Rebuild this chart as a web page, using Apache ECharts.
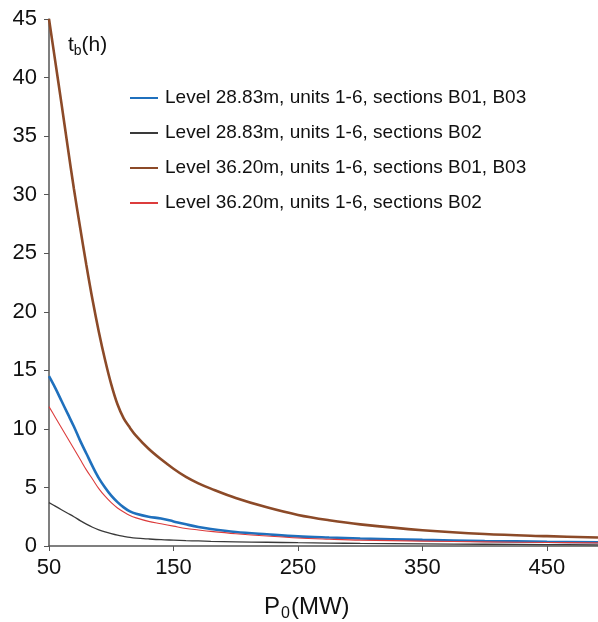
<!DOCTYPE html>
<html>
<head>
<meta charset="utf-8">
<script src="https://cdn.jsdelivr.net/npm/echarts@6/dist/echarts.min.js"></script>
<style>
  html, body { margin: 0; padding: 0; background: #fff; }
  #chart { width: 598px; height: 622px; }
</style>
</head>
<body>
<div id="chart"></div>
<script>
// Rated power P0 (MW)
const powerMW = [50, 55, 60, 65, 70, 75, 80, 85, 90, 95, 100, 105, 110, 115, 120, 130, 140, 150, 160, 170, 180, 200, 225, 250, 275, 300, 350, 400, 450, 491];

// Time tb (h) for each configuration
const level2883_B01B03 = [14.5, 13.5, 12.4, 11.3, 10.2, 9.0, 7.9, 6.8, 5.8, 5.0, 4.3, 3.75, 3.3, 2.95, 2.75, 2.5, 2.35, 2.1, 1.85, 1.62, 1.45, 1.2, 1.0, 0.82, 0.72, 0.64, 0.52, 0.43, 0.36, 0.32];
const level2883_B02 = [3.7, 3.4, 3.1, 2.8, 2.5, 2.17, 1.87, 1.6, 1.38, 1.2, 1.05, 0.92, 0.82, 0.73, 0.67, 0.6, 0.54, 0.5, 0.46, 0.43, 0.4, 0.36, 0.32, 0.28, 0.25, 0.22, 0.18, 0.15, 0.12, 0.1];
const level3620_B01B03 = [45, 41.4, 37.8, 34.1, 30.5, 27.2, 24.0, 21.0, 18.3, 15.9, 13.8, 12.1, 10.9, 10.1, 9.4, 8.3, 7.4, 6.6, 5.9, 5.35, 4.9, 4.1, 3.3, 2.65, 2.2, 1.85, 1.35, 1.02, 0.84, 0.72];
const level3620_B02 = [11.9, 11.0, 10.1, 9.2, 8.3, 7.4, 6.5, 5.7, 4.9, 4.25, 3.7, 3.25, 2.9, 2.6, 2.4, 2.1, 1.9, 1.7, 1.5, 1.37, 1.25, 1.05, 0.85, 0.68, 0.58, 0.5, 0.42, 0.35, 0.3, 0.27];

const seriesNames = [
  'Level 28.83m, units 1-6, sections B01, B03',
  'Level 28.83m, units 1-6, sections B02',
  'Level 36.20m, units 1-6, sections B01, B03',
  'Level 36.20m, units 1-6, sections B02'
];

const FONT = '"Liberation Sans", Arial, sans-serif';
const pair = (ys) => powerMW.map((x, i) => [x, ys[i]]);

function lineSeries(name, ys, color, width, z) {
  return {
    name: name,
    type: 'line',
    data: pair(ys),
    symbol: 'none',
    smooth: 0.35,
    z: z,
    lineStyle: { color: color, width: width },
    itemStyle: { color: color }
  };
}

const chart = echarts.init(document.getElementById('chart'), null, { renderer: 'canvas' });

chart.setOption({
  animation: false,
  backgroundColor: '#ffffff',
  title: [
    {
      // y-axis quantity
      text: '{t|t}{s|b}{t|(h)}',
      left: 63,
      top: 27,
      textStyle: {
        rich: {
          t: { fontFamily: FONT, fontSize: 21, fontWeight: 'normal', color: '#111' },
          s: { fontFamily: FONT, fontSize: 14, fontWeight: 'normal', color: '#111', verticalAlign: 'bottom', padding: [12, 0, 0, 0] }
        }
      }
    },
    {
      // x-axis quantity
      text: '{t|P}{s|0}{t|(MW)}',
      left: 259,
      top: 587,
      textStyle: {
        rich: {
          t: { fontFamily: FONT, fontSize: 24, fontWeight: 'normal', color: '#111' },
          s: { fontFamily: FONT, fontSize: 16, fontWeight: 'normal', color: '#111', verticalAlign: 'bottom', padding: [14, 1, 0, 1] }
        }
      }
    }
  ],
  legend: {
    orient: 'vertical',
    left: 124,
    top: 83,
    itemWidth: 28,
    itemHeight: 14,
    itemGap: 15,
    itemStyle: { opacity: 0 },
    data: seriesNames,
    textStyle: { fontFamily: FONT, fontSize: 19, color: '#111', lineHeight: 20, padding: [0, 0, 0, 2] }
  },
  grid: { left: 49, right: 0, top: 19, bottom: 76, containLabel: false },
  xAxis: {
    type: 'value',
    min: 50,
    max: 491,
    interval: 100,
    axisLine: { lineStyle: { color: '#555', width: 1.5 } },
    axisTick: { show: true, length: 5, lineStyle: { color: '#555' } },
    axisLabel: { fontFamily: FONT, fontSize: 22, color: '#111', margin: 11, showMaxLabel: false },
    splitLine: { show: false }
  },
  yAxis: {
    type: 'value',
    min: 0,
    max: 45,
    interval: 5,
    axisLine: { show: true, lineStyle: { color: '#555', width: 1.5 } },
    axisTick: { show: true, length: 5, lineStyle: { color: '#555' } },
    axisLabel: { fontFamily: FONT, fontSize: 22, color: '#111', margin: 12 },
    splitLine: { show: false }
  },
  series: [
    lineSeries(seriesNames[0], level2883_B01B03, '#1f70bd', 2.6, 3),
    lineSeries(seriesNames[1], level2883_B02, '#3a3a3a', 1.3, 2),
    lineSeries(seriesNames[2], level3620_B01B03, '#8c4a28', 2.6, 4),
    lineSeries(seriesNames[3], level3620_B02, '#dc3c3c', 1.1, 3)
  ]
});
</script>
</body>
</html>
